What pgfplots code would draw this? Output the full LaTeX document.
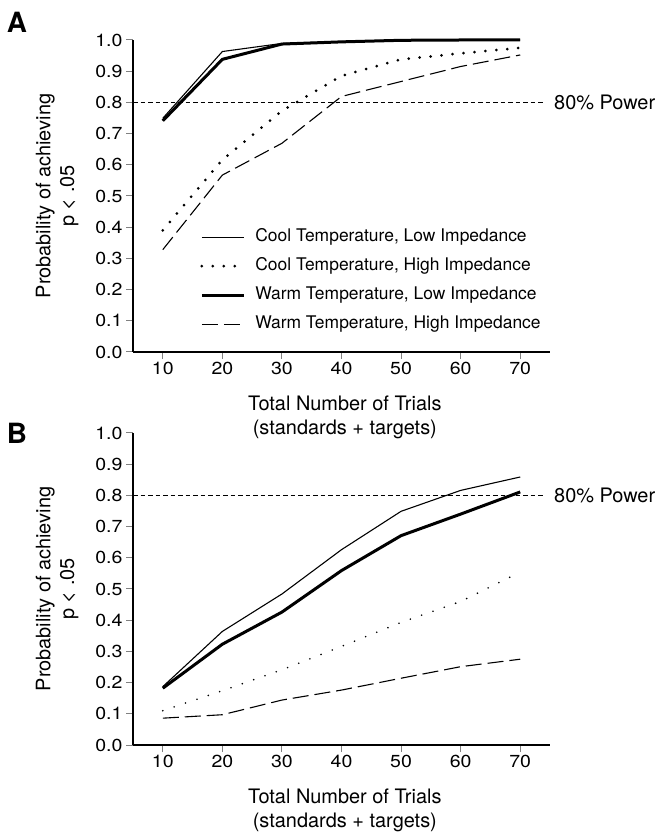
\documentclass[border=0pt]{standalone}
\usepackage{fontspec}
\setmainfont{TeX Gyre Heros}
\newfontfamily\tickfont[FakeStretch=1.12]{TeX Gyre Heros}
\usepackage{pgfplots}
\pgfplotsset{compat=1.18}

\pgfplotsset{
  panel/.style={
    scale only axis, width=417bp, height=312bp,
    xmin=5, xmax=75, ymin=0, ymax=1,
    axis x line*=bottom, axis y line*=left,
    axis line style={line width=1.1bp, -},
    xtick={10,20,30,40,50,60,70},
    ytick={0,0.1,0.2,0.3,0.4,0.5,0.6,0.7,0.8,0.9,1},
    tick align=outside, major tick length=7bp,
    tick style={gray, line width=1bp},
    /pgf/number format/assume math mode=true,
    yticklabel style={/pgf/number format/fixed, /pgf/number format/fixed zerofill, /pgf/number format/precision=1},
    tick label style={font=\tickfont\fontsize{17.5}{17.5}\selectfont, black},
    xlabel={Total Number of Trials\\(standards + targets)},
    ylabel={Probability of achieving\\p < .05},
    xlabel style={align=center, font=\fontsize{20}{24}\selectfont, at={(axis description cs:0.508,-0.21)}, anchor=center},
    ylabel style={align=center, font=\fontsize{20}{24}\selectfont, at={(axis description cs:-0.182,0.5)}, anchor=center},
    clip=false,
  },
  coollow/.style={black, line width=1.1bp},
  coolhighA/.style={black, line width=3bp, line cap=round, dash pattern=on 0bp off 11bp},
  coolhighB/.style={black, line width=1.8bp, line cap=round, dash pattern=on 0bp off 12bp},
  warmlow/.style={black, line width=3bp},
  warmhigh/.style={black, line width=1.1bp, dash pattern=on 16bp off 6bp},
  powerline/.style={black, line width=0.9bp, dash pattern=on 4.5bp off 3bp, forget plot},
}

\begin{document}
\begin{tikzpicture}
\path[use as bounding box] (0,0) rectangle (664bp,840bp);

% Panel A
\begin{axis}[panel, at={(133bp,488bp)}, anchor=south west,
  legend cell align=left,
  legend image code/.code={\draw[#1] (0bp,0bp) -- (42bp,0bp);},
  legend style={at={(rel axis cs:0.161,0.396)}, anchor=north west, draw=none, fill=none,
    inner sep=0pt, row sep=12bp, column sep=10bp,
    font=\fontsize{17.5}{17.5}\selectfont,
    nodes={inner sep=0pt, text height=13bp, text depth=4bp}},
]
\addplot[powerline] coordinates {(5,0.8) (74.2,0.8)};
\addplot[coollow] coordinates {(10,0.749)(20,0.963)(30,0.989)(40,0.995)(50,1.0)(60,1.0)(70,1.0)};
\addlegendentry{Cool Temperature, Low Impedance}
\addplot[coolhighA] coordinates {(10,0.39)(20,0.616)(30,0.773)(40,0.885)(50,0.938)(60,0.957)(70,0.975)};
\addlegendentry{Cool Temperature, High Impedance}
\addplot[warmlow] coordinates {(10,0.741)(20,0.938)(30,0.987)(40,0.994)(50,0.999)(60,1.0)(70,1.0)};
\addlegendentry{Warm Temperature, Low Impedance}
\addplot[warmhigh] coordinates {(10,0.328)(20,0.567)(30,0.669)(40,0.819)(50,0.867)(60,0.915)(70,0.952)};
\addlegendentry{Warm Temperature, High Impedance}
\node[anchor=west, inner sep=0pt, font=\fontsize{20}{20}\selectfont] at (axis cs:75,0.8) [xshift=4bp] {80\% Power};
\end{axis}

% Panel B
\begin{axis}[panel, at={(133bp,95bp)}, anchor=south west]
\addplot[powerline] coordinates {(5,0.8) (74.2,0.8)};
\addplot[coollow] coordinates {(10,0.187)(20,0.364)(30,0.484)(40,0.626)(50,0.749)(60,0.816)(70,0.859)};
\addplot[coolhighB] coordinates {(10,0.110)(20,0.174)(30,0.241)(40,0.316)(50,0.393)(60,0.460)(70,0.554)};
\addplot[warmlow] coordinates {(10,0.182)(20,0.323)(30,0.426)(40,0.559)(50,0.671)(60,0.740)(70,0.811)};
\addplot[warmhigh] coordinates {(10,0.086)(20,0.097)(30,0.144)(40,0.176)(50,0.214)(60,0.251)(70,0.275)};
\node[anchor=west, inner sep=0pt, font=\fontsize{20}{20}\selectfont] at (axis cs:75,0.8) [xshift=4bp] {80\% Power};
\end{axis}

\node[font=\bfseries\fontsize{28}{28}\selectfont] at (17bp,818bp) {A};
\node[font=\bfseries\fontsize{28}{28}\selectfont] at (17bp,407bp) {B};
\end{tikzpicture}
\end{document}
